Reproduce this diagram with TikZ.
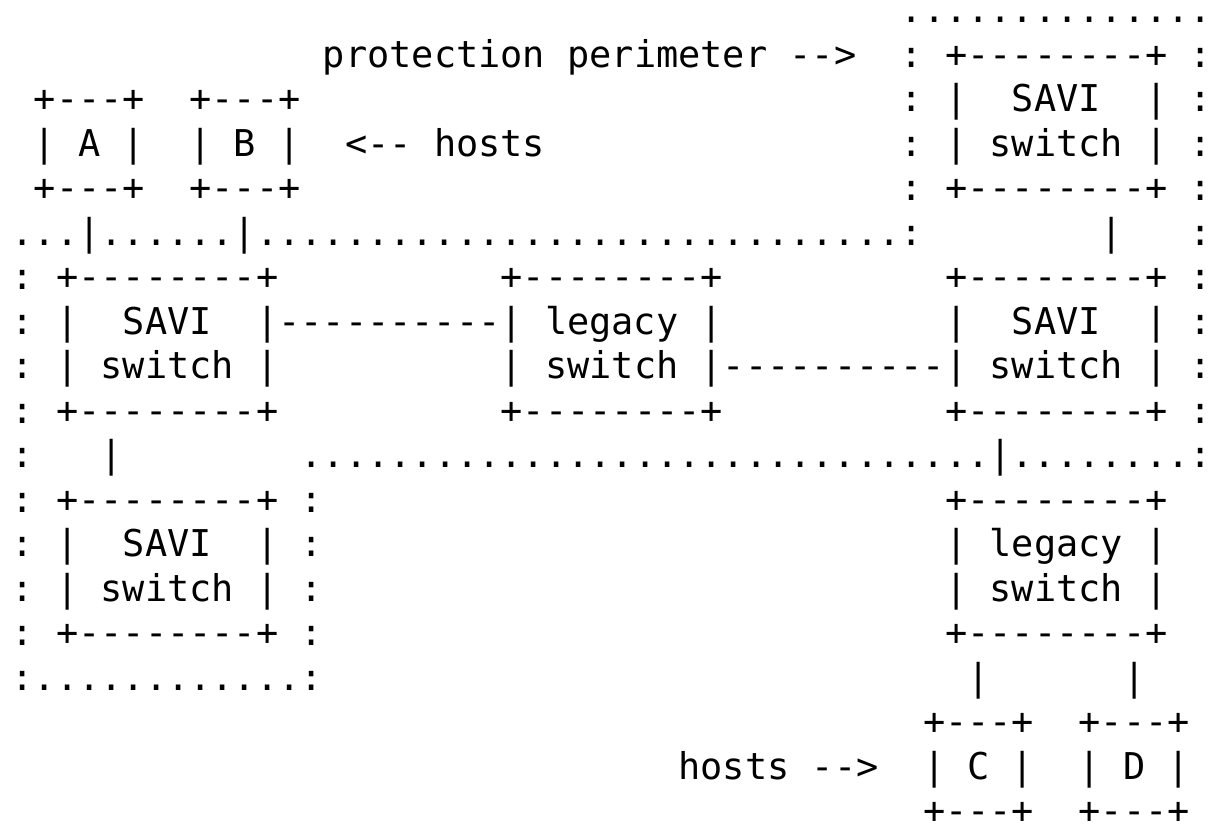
\documentclass[tikz,border=0pt]{standalone}
\usepackage{fontspec}
\setmonofont{DejaVu Sans Mono}

% a run of perimeter dots
\newcommand{\perimdots}[1]{\foreach \k in {1,...,#1}{.}}

\tikzset{
  ascii/.style = {anchor=base west, inner sep=0pt, outer sep=0pt,
    font=\ttfamily\frenchspacing\fontsize{18.6pt}{22.4pt}\selectfont},
}

\begin{document}
\begin{tikzpicture}[x=11.2pt, y=-22.425pt]
\fill[white] (-5.9pt,11.4pt) rectangle (600.1pt,-398.6pt);
% upper right part of the perimeter, with its SAVI switch
\node[ascii] (pTop)   at (40,0) {\perimdots{14}};
\node[ascii] (pLabel) at (14,1) {protection perimeter -->};
\node[ascii] (s1a)    at (40,1) {: +--------+ :};
\node[ascii] (s1b)    at (40,2) {: |~~SAVI~~| :};
\node[ascii] (s1c)    at (40,3) {: | switch | :};
\node[ascii] (s1d)    at (40,4) {: +--------+ :};
% hosts A and B
\node[ascii] (ab1)    at (1,2) {+---+~~+---+};
\node[ascii] (ab2)    at (1,3) {| A |~~| B |};
\node[ascii] (ab3)    at (1,4) {+---+~~+---+};
\node[ascii] (hLabel) at (15,3) {<-- hosts};
% perimeter line under the hosts
\node[ascii] (pMid)   at (0,5) {\perimdots{3}|\perimdots{6}|\perimdots{29}:};
\node[ascii] (l1)     at (49,5) {|};
\node[ascii] (pR5)    at (53,5) {:};
% middle row: SAVI -- legacy -- SAVI
\node[ascii] (m1a)    at (0,6) {: +--------+};
\node[ascii] (m1b)    at (0,7) {: |~~SAVI~~|----------| legacy |};
\node[ascii] (m1c)    at (0,8) {: | switch |};
\node[ascii] (m1d)    at (0,9) {: +--------+};
\node[ascii] (m2a)    at (22,6) {+--------+};
\node[ascii] (m2c)    at (22,8) {| switch |----------| switch | :};
\node[ascii] (m2d)    at (22,9) {+--------+};
\node[ascii] (m3a)    at (42,6) {+--------+ :};
\node[ascii] (m3b)    at (42,7) {|~~SAVI~~| :};
\node[ascii] (m3d)    at (42,9) {+--------+ :};
% perimeter line under the middle row
\node[ascii] (pL10)   at (0,10) {:};
\node[ascii] (l2)     at (4,10) {|};
\node[ascii] (pLow)   at (13,10) {\perimdots{31}|\perimdots{8}:};
% lower left SAVI switch
\node[ascii] (s2a)    at (0,11) {: +--------+ :};
\node[ascii] (s2b)    at (0,12) {: |~~SAVI~~| :};
\node[ascii] (s2c)    at (0,13) {: | switch | :};
\node[ascii] (s2d)    at (0,14) {: +--------+ :};
\node[ascii] (pBot)   at (0,15) {:\perimdots{12}:};
% lower right legacy switch, outside the perimeter
\node[ascii] (g1a)    at (42,11) {+--------+};
\node[ascii] (g1b)    at (42,12) {| legacy |};
\node[ascii] (g1c)    at (42,13) {| switch |};
\node[ascii] (g1d)    at (42,14) {+--------+};
\node[ascii] (l3)     at (43,15) {|};
\node[ascii] (l4)     at (50,15) {|};
% hosts C and D
\node[ascii] (cd1)    at (41,16) {+---+~~+---+};
\node[ascii] (cd2)    at (41,17) {| C |~~| D |};
\node[ascii] (cd3)    at (41,18) {+---+~~+---+};
\node[ascii] (hLabel2) at (30,17) {hosts -->};
\end{tikzpicture}
\end{document}
